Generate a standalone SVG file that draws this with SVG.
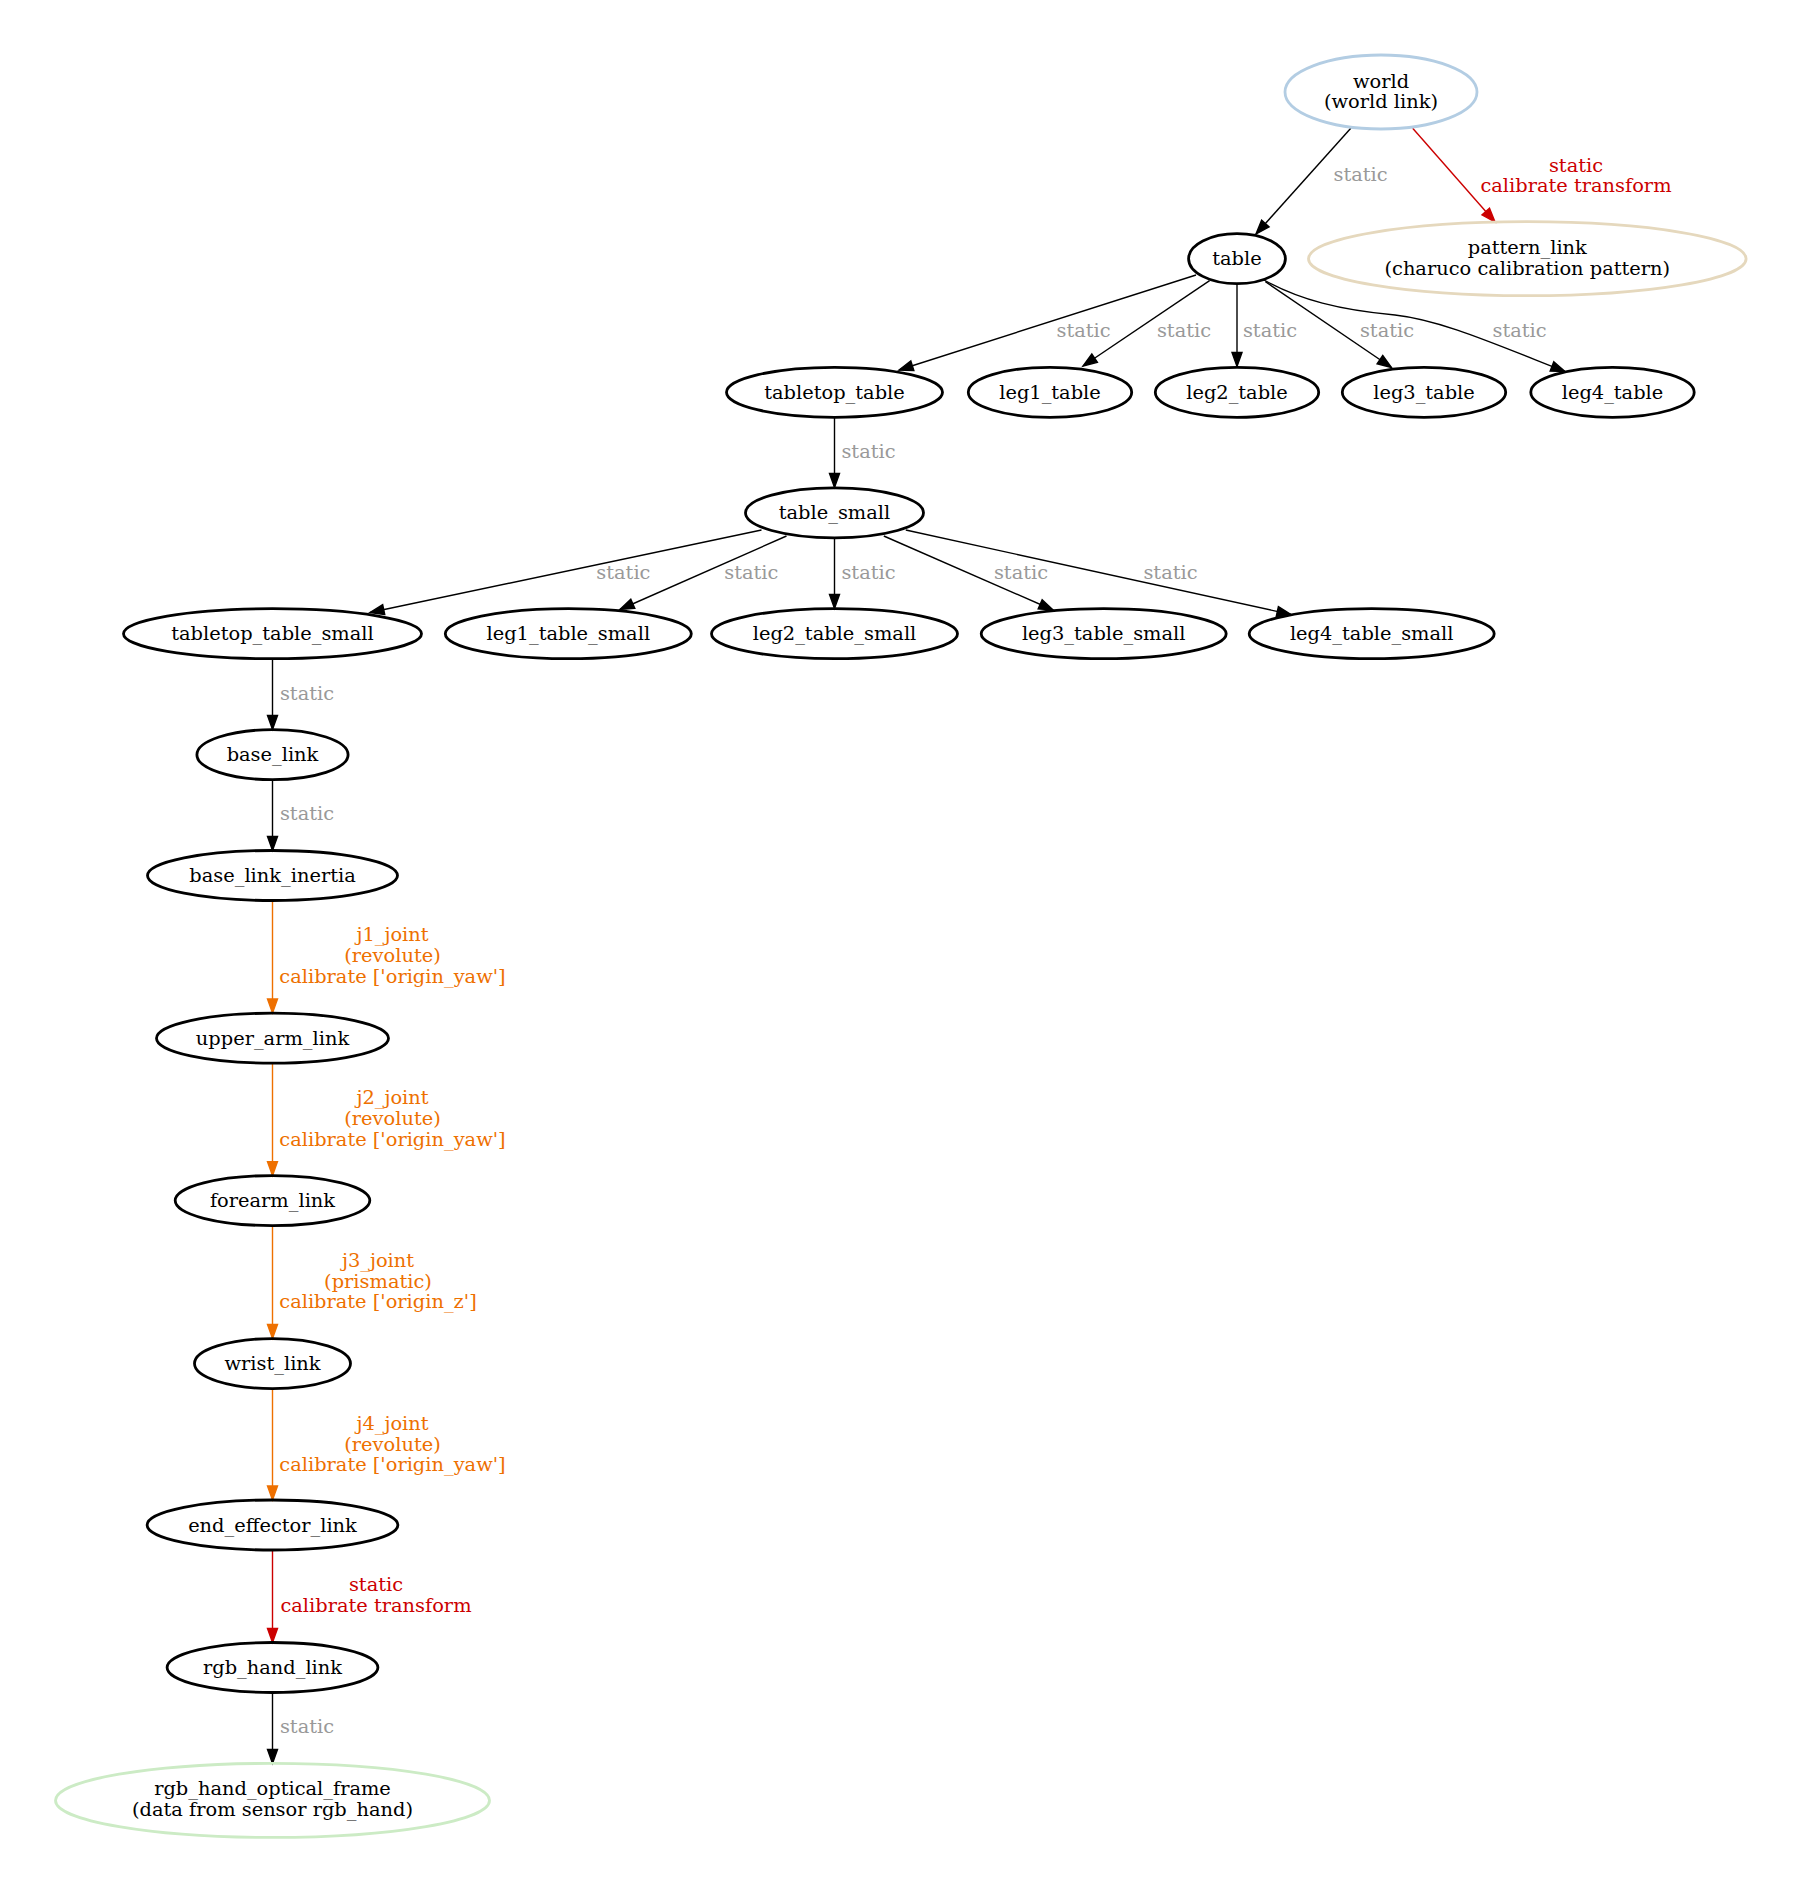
<svg xmlns="http://www.w3.org/2000/svg" width="1800" height="1893" viewBox="0 0 1800 1893">
<style>
text{font-family:"DejaVu Serif","Liberation Serif",serif;font-size:19.4px;text-anchor:middle}
.n ellipse{fill:none;stroke:#000;stroke-width:2.8}
.n text{fill:#000}
.e path{fill:none;stroke-width:1.4}
.k{stroke:#000;marker-end:url(#ak)}
.r{stroke:#cc0000;marker-end:url(#ar)}
.o{stroke:#ee7000;marker-end:url(#ao)}
.lg{fill:#999999}
.lr{fill:#cc0000}
.lo{fill:#ee7000}
</style>
<defs>
<marker id="ak" markerUnits="userSpaceOnUse" markerWidth="16" markerHeight="12" refX="14" refY="5" orient="auto" overflow="visible"><path d="M0,0 L14,5 L0,10 z" fill="#000" stroke="#000" stroke-width="1.4"/></marker>
<marker id="ar" markerUnits="userSpaceOnUse" markerWidth="16" markerHeight="12" refX="14" refY="5" orient="auto" overflow="visible"><path d="M0,0 L14,5 L0,10 z" fill="#cc0000" stroke="#cc0000" stroke-width="1.4"/></marker>
<marker id="ao" markerUnits="userSpaceOnUse" markerWidth="16" markerHeight="12" refX="14" refY="5" orient="auto" overflow="visible"><path d="M0,0 L14,5 L0,10 z" fill="#ee7000" stroke="#ee7000" stroke-width="1.4"/></marker>
</defs>
<rect width="1800" height="1893" fill="#fff"/>
<g id="edges" class="e">
<path class="k" d="M1351,128 L1256,234"/>
<path class="r" d="M1412.7,128.3 L1495,222"/>
<path class="k" d="M1196,275 L899,370"/>
<path class="k" d="M1209.6,280.7 L1083,366"/>
<path class="k" d="M1237,284 L1237,366.5"/>
<path class="k" d="M1265.4,281.7 L1391.5,367.5"/>
<path class="k" d="M1264,280 C1300,300 1340,310 1395,315 C1440,320 1490,342 1565,371.5"/>
<path class="k" d="M834.5,417.5 L834.5,487.5"/>
<path class="k" d="M761.5,530 L370,612.5"/>
<path class="k" d="M786.5,536 L620,609.5"/>
<path class="k" d="M834.5,539 L834.5,608.5"/>
<path class="k" d="M883.8,536 L1053,610"/>
<path class="k" d="M905.8,530 L1291,614.5"/>
<path class="k" d="M272.5,658.5 L272.5,729.5"/>
<path class="k" d="M272.5,779.5 L272.5,850.5"/>
<path class="o" d="M272.5,900.5 L272.5,1013"/>
<path class="o" d="M272.5,1063 L272.5,1175.6"/>
<path class="o" d="M272.5,1225.6 L272.5,1338.5"/>
<path class="o" d="M272.5,1388.5 L272.5,1500"/>
<path class="r" d="M272.5,1550 L272.5,1642.5"/>
<path class="k" d="M272.5,1692.5 L272.5,1763.5"/>
<text class="lg" x="1360.6" y="181">static</text>
<text class="lr" x="1576" y="171.5">static</text>
<text class="lr" x="1576" y="192">calibrate transform</text>
<text class="lg" x="1083.6" y="337">static</text>
<text class="lg" x="1184" y="337">static</text>
<text class="lg" x="1270" y="337">static</text>
<text class="lg" x="1387" y="337">static</text>
<text class="lg" x="1519.6" y="337">static</text>
<text class="lg" x="868.5" y="458">static</text>
<text class="lg" x="623.4" y="579">static</text>
<text class="lg" x="751.3" y="579">static</text>
<text class="lg" x="868.5" y="579">static</text>
<text class="lg" x="1021" y="579">static</text>
<text class="lg" x="1170.5" y="579">static</text>
<text class="lg" x="307" y="699.5">static</text>
<text class="lg" x="307" y="819.5">static</text>
<text class="lo" x="392.5" y="941">j1_joint</text>
<text class="lo" x="392.5" y="962">(revolute)</text>
<text class="lo" x="392.5" y="983">calibrate ['origin_yaw']</text>
<text class="lo" x="392.5" y="1104">j2_joint</text>
<text class="lo" x="392.5" y="1125">(revolute)</text>
<text class="lo" x="392.5" y="1145.5">calibrate ['origin_yaw']</text>
<text class="lo" x="378" y="1267">j3_joint</text>
<text class="lo" x="378" y="1287.5">(prismatic)</text>
<text class="lo" x="378" y="1308">calibrate ['origin_z']</text>
<text class="lo" x="392.5" y="1430">j4_joint</text>
<text class="lo" x="392.5" y="1450.5">(revolute)</text>
<text class="lo" x="392.5" y="1471">calibrate ['origin_yaw']</text>
<text class="lr" x="376" y="1591">static</text>
<text class="lr" x="376" y="1612">calibrate transform</text>
<text class="lg" x="307" y="1733">static</text>
</g>
<g id="world" class="n"><ellipse cx="1381" cy="92" rx="96" ry="37" style="stroke:#b3cde3"/><text x="1381" y="87.5">world</text><text x="1381" y="108">(world link)</text></g>
<g id="pattern_link" class="n"><ellipse cx="1527.3" cy="258.7" rx="218.8" ry="37" style="stroke:#e5d8bd"/><text x="1527.3" y="254">pattern_link</text><text x="1527.3" y="274.5">(charuco calibration pattern)</text></g>
<g id="table" class="n"><ellipse cx="1237" cy="258.7" rx="48.4" ry="25"/><text x="1237" y="265">table</text></g>
<g id="tabletop_table" class="n"><ellipse cx="834.5" cy="392.3" rx="108" ry="25"/><text x="834.5" y="398.8">tabletop_table</text></g>
<g id="leg1_table" class="n"><ellipse cx="1050" cy="392.3" rx="81.7" ry="25"/><text x="1050" y="398.8">leg1_table</text></g>
<g id="leg2_table" class="n"><ellipse cx="1237" cy="392.3" rx="81.7" ry="25"/><text x="1237" y="398.8">leg2_table</text></g>
<g id="leg3_table" class="n"><ellipse cx="1424" cy="392.3" rx="81.7" ry="25"/><text x="1424" y="398.8">leg3_table</text></g>
<g id="leg4_table" class="n"><ellipse cx="1612.5" cy="392.3" rx="81.7" ry="25"/><text x="1612.5" y="398.8">leg4_table</text></g>
<g id="table_small" class="n"><ellipse cx="834.5" cy="512.8" rx="89" ry="25"/><text x="834.5" y="519.3">table_small</text></g>
<g id="tabletop_table_small" class="n"><ellipse cx="272.5" cy="633.7" rx="149" ry="25"/><text x="272.5" y="640.2">tabletop_table_small</text></g>
<g id="leg1_table_small" class="n"><ellipse cx="568.3" cy="633.7" rx="123" ry="25"/><text x="568.3" y="640.2">leg1_table_small</text></g>
<g id="leg2_table_small" class="n"><ellipse cx="834.5" cy="633.7" rx="123" ry="25"/><text x="834.5" y="640.2">leg2_table_small</text></g>
<g id="leg3_table_small" class="n"><ellipse cx="1103.7" cy="633.7" rx="122.5" ry="25"/><text x="1103.7" y="640.2">leg3_table_small</text></g>
<g id="leg4_table_small" class="n"><ellipse cx="1371.7" cy="633.7" rx="122.5" ry="25"/><text x="1371.7" y="640.2">leg4_table_small</text></g>
<g id="base_link" class="n"><ellipse cx="272.5" cy="754.7" rx="75.6" ry="25"/><text x="272.5" y="761.2">base_link</text></g>
<g id="base_link_inertia" class="n"><ellipse cx="272.5" cy="875.5" rx="125" ry="25"/><text x="272.5" y="882">base_link_inertia</text></g>
<g id="upper_arm_link" class="n"><ellipse cx="272.5" cy="1038.2" rx="116" ry="25"/><text x="272.5" y="1044.7">upper_arm_link</text></g>
<g id="forearm_link" class="n"><ellipse cx="272.5" cy="1200.6" rx="97.3" ry="25"/><text x="272.5" y="1207.1">forearm_link</text></g>
<g id="wrist_link" class="n"><ellipse cx="272.5" cy="1363.6" rx="78" ry="25"/><text x="272.5" y="1370.1">wrist_link</text></g>
<g id="end_effector_link" class="n"><ellipse cx="272.5" cy="1525" rx="125.4" ry="25"/><text x="272.5" y="1531.5">end_effector_link</text></g>
<g id="rgb_hand_link" class="n"><ellipse cx="272.5" cy="1667.5" rx="105.4" ry="25"/><text x="272.5" y="1674">rgb_hand_link</text></g>
<g id="rgb_hand_optical_frame" class="n"><ellipse cx="272.5" cy="1800.4" rx="217" ry="37" style="stroke:#ccebc5"/><text x="272.5" y="1794.5">rgb_hand_optical_frame</text><text x="272.5" y="1815.5">(data from sensor rgb_hand)</text></g>
</svg>
